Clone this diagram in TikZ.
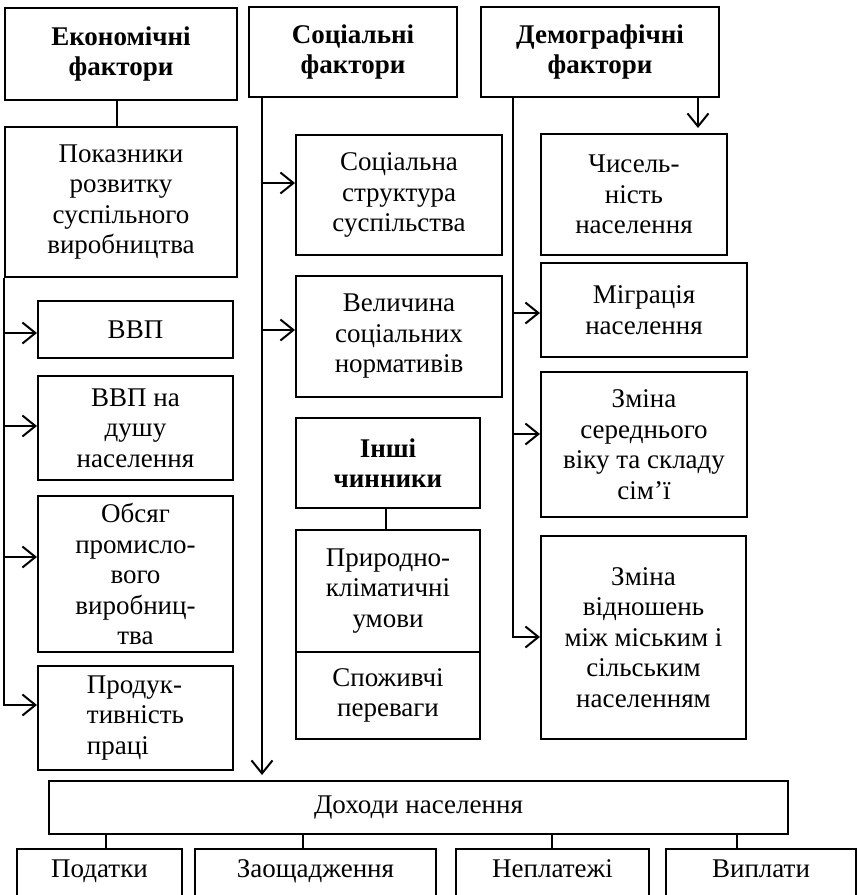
\documentclass[tikz,border=0pt]{standalone}
\usepackage{fontspec}
\setmainfont{Liberation Serif}
\usetikzlibrary{arrows.meta}
\begin{document}
\begin{tikzpicture}[x=1pt,y=-1pt,
  box/.style={draw, line width=2pt, align=center, inner sep=0pt,
    font=\fontsize{27}{30.5}\selectfont},
  head/.style={box, font=\fontsize{27}{30.5}\selectfont\bfseries},
  link/.style={line width=2pt},
  arr/.style={link, -{Straight Barb[length=13pt,width=21pt]}}]
\clip (0,0) rectangle (858,895);
\fill[white] (0,0) rectangle (858,895);

% --- economic factors column
\node[head, minimum width=232pt, minimum height=92pt] (econ) at (121,54) {Економічні\\фактори};
\node[box, minimum width=232pt, minimum height=150pt] (pokaz) at (121,202) {Показники\\розвитку\\суспільного\\виробництва};
\node[box, minimum width=195pt, minimum height=57pt] (vvp) at (135.5,329.5) {ВВП};
\node[box, minimum width=195pt, minimum height=104pt] (vvpd) at (135.5,428) {ВВП на\\душу\\населення};
\node[box, minimum width=195pt, minimum height=156pt] (obs) at (135.5,574) {Обсяг\\промисло-\\вого\\виробниц-\\тва};
\node[box, align=left, minimum width=195pt, minimum height=104pt] (prod) at (135.5,718) {Продук-\\тивність\\праці};

% --- social factors column
\node[head, minimum width=208pt, minimum height=90pt] (soc) at (353,52) {Соціальні\\фактори};
\node[box, minimum width=206pt, minimum height=120pt] (socstr) at (399,195) {Соціальна\\структура\\суспільства};
\node[box, minimum width=206pt, minimum height=121pt] (vel) at (399,336.5) {Величина\\соціальних\\нормативів};
\node[head, minimum width=184pt, minimum height=90pt] (inshi) at (388,463) {Інші\\чинники};
\node[box, minimum width=184pt, minimum height=122pt] (pryr) at (388,591) {Природно-\\кліматичні\\умови};
\node[box, minimum width=184pt, minimum height=87pt] (spoz) at (388,695.5) {Споживчі\\переваги};

% --- demographic factors column
\node[head, minimum width=238pt, minimum height=90pt] (demo) at (600,52) {Демографічні\\фактори};
\node[box, minimum width=186pt, minimum height=121pt] (chys) at (634,194.5) {Чисель-\\ність\\населення};
\node[box, minimum width=206pt, minimum height=94pt] (migr) at (644,310) {Міграція\\населення};
\node[box, minimum width=206pt, minimum height=145pt] (zser) at (644,444.5) {Зміна\\середнього\\віку та складу\\сім’ї};
\node[box, minimum width=205pt, minimum height=203pt] (zvid) at (643.5,637.5) {Зміна\\відношень\\між міським і\\сільським\\населенням};

% --- income and its parts
\node[box, minimum width=739pt, minimum height=53pt] (doh) at (418.5,807.5) {Доходи населення};
\node[box, anchor=north, minimum width=165pt, text height=28pt, text depth=44pt] (pod) at (99.5,848) {Податки};
\node[box, anchor=north, minimum width=241pt, text height=28pt, text depth=44pt] (zao) at (315.5,848) {Заощадження};
\node[box, anchor=north, minimum width=193pt, text height=28pt, text depth=44pt] (nepl) at (552.5,848) {Неплатежі};
\node[box, anchor=north, minimum width=190pt, text height=28pt, text depth=44pt] (vypl) at (761,848) {Виплати};

% --- economic links
\draw[link] ([xshift=-4pt]econ.south) -- ([xshift=-4pt]econ.south |- pokaz.north);
\coordinate (e1) at (pokaz.south west |- 0,333);
\coordinate (e2) at (pokaz.south west |- 0,426);
\coordinate (e3) at (pokaz.south west |- 0,557);
\coordinate (e4) at (pokaz.south west |- 0,705);
\draw[arr] (pokaz.south west) -- (e4) -- (e4 -| prod.west);
\draw[arr] (e1) -- (e1 -| vvp.west);
\draw[arr] (e2) -- (e2 -| vvpd.west);
\draw[arr] (e3) -- (e3 -| obs.west);

% --- social links
\coordinate (s0) at ([xshift=14pt]soc.south west);
\coordinate (s1) at (s0 |- 0,183);
\coordinate (s2) at (s0 |- 0,330);
\draw[arr, shorten >=5pt] (s0) -- (s0 |- doh.north);
\draw[arr] (s1) -- (s1 -| socstr.west);
\draw[arr] (s2) -- (s2 -| vel.west);
\draw[link] ([xshift=-2pt]inshi.south) -- ([xshift=-2pt]inshi.south |- pryr.north);

% --- demographic links
\coordinate (d0) at ([xshift=33pt]demo.south west);
\coordinate (d1) at (d0 |- 0,313);
\coordinate (d2) at (d0 |- 0,434);
\coordinate (d3) at (d0 |- 0,637);
\draw[arr] (d0) -- (d3) -- (d3 -| zvid.west);
\draw[arr] (d1) -- (d1 -| migr.west);
\draw[arr] (d2) -- (d2 -| zser.west);
\draw[arr, shorten >=5pt] ([xshift=-22pt]demo.south east) -- ([xshift=-22pt]demo.south east |- chys.north);

% --- income links
\draw[link] ([xshift=6.5pt]pod.north) -- ([xshift=6.5pt]pod.north |- doh.south);
\draw[link] ([xshift=-12.5pt]zao.north) -- ([xshift=-12.5pt]zao.north |- doh.south);
\draw[link] ([xshift=-0.5pt]nepl.north) -- ([xshift=-0.5pt]nepl.north |- doh.south);
\draw[link] ([xshift=-24pt]vypl.north) -- ([xshift=-24pt]vypl.north |- doh.south);
\end{tikzpicture}
\end{document}
